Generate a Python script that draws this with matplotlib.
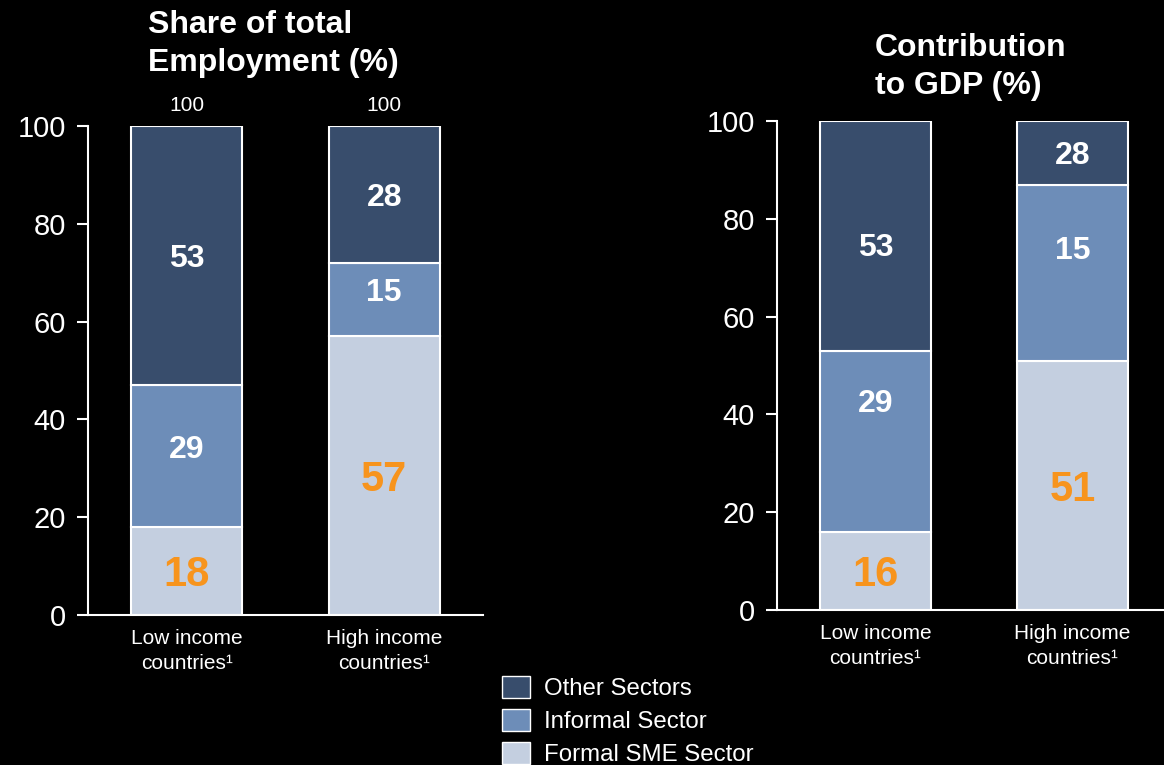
import matplotlib.pyplot as plt
from matplotlib.patches import Patch

plt.rcParams['font.family'] = ['Liberation Sans', 'DejaVu Sans']

categories = ['Low income\ncountries¹', 'High income\ncountries¹']
series = ['Formal SME Sector', 'Informal Sector', 'Other Sectors']
colors = ['#c4cfe0', '#6d8db8', '#384d6c']

# employment share (%)
emp_formal = [18, 57]
emp_informal = [29, 15]
emp_other = [53, 28]
emp_totals = [100, 100]

# contribution to GDP (%): segment heights as drawn, labels as printed
gdp_formal = [16, 51]
gdp_informal = [37, 36]
gdp_other = [47, 13]
gdp_labels_formal = [16, 51]
gdp_labels_informal = [29, 15]
gdp_labels_other = [53, 28]

W, H = 1164, 765
fig = plt.figure(figsize=(W / 100, H / 100), dpi=100, facecolor='black')


def stacked(ax, heights, labels, nudge):
    x = range(len(categories))
    bottom = [0] * len(categories)
    for i, (h, lab) in enumerate(zip(heights, labels)):
        ax.bar(x, h, bottom=bottom, width=0.56, color=colors[i],
               edgecolor='white', linewidth=1.5, zorder=3)
        for j in x:
            yc = bottom[j] + h[j] / 2 + nudge[i][j]
            if i == 0:
                ax.text(j, yc, str(lab[j]), ha='center', va='center_baseline',
                        color='#f7941d', fontsize=30, fontweight='bold', zorder=4)
            else:
                ax.text(j, yc, str(lab[j]), ha='center', va='center_baseline',
                        color='white', fontsize=23, fontweight='bold', zorder=4)
        bottom = [b + v for b, v in zip(bottom, h)]
    ax.set_facecolor('black')
    ax.set_xlim(-0.5, 1.5)
    ax.set_ylim(0, 100)
    ax.set_yticks([0, 20, 40, 60, 80, 100])
    ax.set_xticks(list(x))
    ax.set_xticklabels(categories, fontsize=15, color='white', linespacing=1.4)
    ax.tick_params(axis='x', length=0, pad=10)
    ax.tick_params(axis='y', colors='white', labelsize=21, length=8,
                   width=1.5, direction='out', pad=8)
    for s in ['top', 'right']:
        ax.spines[s].set_visible(False)
    for s in ['left', 'bottom']:
        ax.spines[s].set_color('white')
        ax.spines[s].set_linewidth(1.5)
        ax.spines[s].set_zorder(5)


ax1 = fig.add_axes([88 / W, 1 - 615 / H, 395 / W, 489 / H])
stacked(ax1, [emp_formal, emp_informal, emp_other],
        [emp_formal, emp_informal, emp_other],
        [[0, 0], [2, 2], [0, 0]])
for j, t in enumerate(emp_totals):
    ax1.text(j, t + 2.2, str(t), ha='center', va='bottom', color='white',
             fontsize=15)

ax2 = fig.add_axes([777 / W, 1 - 610 / H, 394 / W, 489 / H])
stacked(ax2, [gdp_formal, gdp_informal, gdp_other],
        [gdp_labels_formal, gdp_labels_informal, gdp_labels_other],
        [[0, 0], [8.4, 5.1], [-1.7, 0]])

fig.text(148 / W, 1 - 10 / H, 'Share of total\nEmployment (%)', ha='left',
         va='top', color='white', fontsize=23, fontweight='bold',
         linespacing=1.35)
fig.text(875 / W, 1 - 33 / H, 'Contribution\nto GDP (%)', ha='left',
         va='top', color='white', fontsize=23, fontweight='bold',
         linespacing=1.35)

handles = [Patch(facecolor=colors[i], edgecolor='white', linewidth=1)
           for i in [2, 1, 0]]
leg = fig.legend(handles, [series[i] for i in [2, 1, 0]],
                 loc='upper left', bbox_to_anchor=(492 / W, 1 - 666 / H),
                 frameon=False, fontsize=17.3, handlelength=1.2,
                 handleheight=1.05, labelspacing=0.36, handletextpad=0.55,
                 borderaxespad=0)
for t in leg.get_texts():
    t.set_color('white')

fig.savefig('out.png', dpi=100, facecolor='black')
